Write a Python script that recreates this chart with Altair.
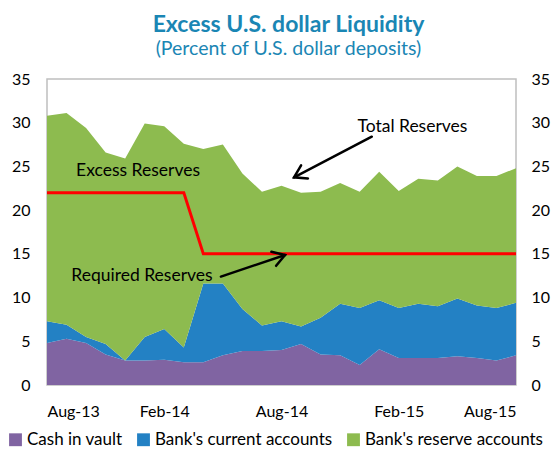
import altair as alt
import pandas as pd
import numpy as np

months = ["Aug-13", "Sep-13", "Oct-13", "Nov-13", "Dec-13", "Jan-14", "Feb-14", "Mar-14",
          "Apr-14", "May-14", "Jun-14", "Jul-14", "Aug-14", "Sep-14", "Oct-14", "Nov-14",
          "Dec-14", "Jan-15", "Feb-15", "Mar-15", "Apr-15", "May-15", "Jun-15", "Jul-15", "Aug-15"]
cash = [4.8, 5.3, 4.8, 3.5, 2.8, 2.8, 2.9, 2.6, 2.6, 3.4, 3.9, 3.9, 4.0, 4.7, 3.5, 3.4,
        2.3, 4.1, 3.1, 3.1, 3.1, 3.3, 3.1, 2.8, 3.4]
current = [2.5, 1.6, 0.7, 1.2, 0.0, 2.7, 3.5, 1.7, 9.0, 8.2, 4.8, 2.9, 3.3, 2.0, 4.2, 5.9,
           6.5, 5.6, 5.7, 6.2, 5.9, 6.6, 6.0, 6.0, 6.0]
reserve = [23.5, 24.2, 23.9, 21.9, 23.1, 24.4, 23.2, 23.3, 15.4, 15.9, 15.5, 15.3, 15.5, 15.3,
           14.4, 13.8, 13.3, 14.7, 13.4, 14.3, 14.4, 15.1, 14.8, 15.1, 15.4]
required = [22] * 8 + [15] * 17

series_names = ["Cash in vault", "Bank's current accounts", "Bank's reserve accounts"]
series_colors = ["#8064A2", "#2381C4", "#8DBB4F"]
tick_idx = [0, 6, 12, 18, 24]

W, H = 469, 306
YMAX = 35
FONT = "Lato"

rows = []
for s_i, (name, vals) in enumerate(zip(series_names, [cash, current, reserve])):
    for i, v in enumerate(vals):
        rows.append({"idx": i, "month": months[i], "series": name, "order": s_i, "value": v})
df = pd.DataFrame(rows)
req_df = pd.DataFrame({"idx": list(range(len(months))), "req": required})

xscale = alt.Scale(domain=[0, 24], nice=False, zero=False)
yscale = alt.Scale(domain=[0, YMAX], nice=False)

label_arr = "[" + ",".join("'%s'" % months[i] for i in tick_idx) + "]"

x_axis = alt.Axis(values=tick_idx, labelExpr=label_arr + "[datum.value/6]",
                  ticks=False, domain=False, grid=False, labelFontSize=16,
                  labelFont=FONT, labelColor="#000", labelPadding=18)
y_left = alt.Axis(values=list(range(0, 36, 5)), ticks=False, domain=False, grid=False,
                  labelFontSize=16, labelFont=FONT, labelColor="#000", labelPadding=17)


def X(field):
    return alt.X(field, scale=xscale, title=None, axis=x_axis)


def Y(field, **kw):
    return alt.Y(field, scale=yscale, title=None, axis=y_left, **kw)


area = alt.Chart(df).mark_area(opacity=1).encode(
    x=X("idx:Q"),
    y=Y("value:Q", stack="zero"),
    color=alt.Color("series:N", scale=alt.Scale(domain=series_names, range=series_colors),
                    sort=series_names,
                    legend=alt.Legend(title=None, orient="none", legendX=-40, legendY=352,
                                      direction="horizontal", symbolType="square",
                                      symbolSize=165, symbolStrokeWidth=0, labelFontSize=17,
                                      labelFont=FONT, labelColor="#000", columnPadding=12,
                                      labelLimit=400, symbolOffset=0, labelOffset=3)),
    order=alt.Order("order:Q"),
)

req_line = alt.Chart(req_df).mark_line(color="#FF0000", strokeWidth=3).encode(
    x=X("idx:Q"),
    y=Y("req:Q"),
)

right_axis = alt.Chart(req_df).mark_line(opacity=0).encode(
    x=X("idx:Q"),
    y=alt.Y("req:Q", scale=yscale, title=None,
            axis=alt.Axis(orient="right", values=list(range(0, 36, 5)), ticks=False,
                          domain=False, grid=False, labelFontSize=16, labelFont=FONT,
                          labelColor="#000", labelPadding=15)),
)

# annotations (positions in data units)
ann_text = ["Total Reserves", "Excess Reserves", "Required Reserves"]
ann_x = [18.7, 4.66, 4.86]
ann_y = [29.5, 24.5, 12.5]
txt_df = pd.DataFrame({"t": ann_text, "x": ann_x, "y": ann_y})
texts = alt.Chart(txt_df).mark_text(font=FONT, fontSize=17.5, color="#000",
                                    align="center", baseline="middle").encode(
    x=X("x:Q"), y=Y("y:Q"), text="t:N")

arrow_tail_x = [16.62, 8.9]
arrow_tail_y = [28.4, 12.4]
arrow_head_x = [12.64, 12.18]
arrow_head_y = [23.75, 14.87]

seg_rows = []
for a in range(2):
    tx, ty = arrow_tail_x[a], arrow_tail_y[a]
    hx, hy = arrow_head_x[a], arrow_head_y[a]
    seg_rows.append({"g": "s%d" % a, "o": 0, "x": tx, "y": ty})
    seg_rows.append({"g": "s%d" % a, "o": 1, "x": hx, "y": hy})
    # arrowhead wings computed in pixel space
    ptx, pty = tx / 24 * W, H - ty / YMAX * H
    phx, phy = hx / 24 * W, H - hy / YMAX * H
    d = np.array([ptx - phx, pty - phy])
    d = d / np.linalg.norm(d)
    L = 14
    wings = []
    for ang in (np.radians(32), -np.radians(32)):
        r = np.array([d[0] * np.cos(ang) - d[1] * np.sin(ang), d[0] * np.sin(ang) + d[1] * np.cos(ang)])
        wx, wy = phx + L * r[0], phy + L * r[1]
        wings.append((wx / W * 24, (H - wy) / H * YMAX))
    seg_rows.append({"g": "h%d" % a, "o": 0, "x": wings[0][0], "y": wings[0][1]})
    seg_rows.append({"g": "h%d" % a, "o": 1, "x": hx, "y": hy})
    seg_rows.append({"g": "h%d" % a, "o": 2, "x": wings[1][0], "y": wings[1][1]})
seg_df = pd.DataFrame(seg_rows)
arrows = alt.Chart(seg_df).mark_line(color="#000", strokeWidth=2.5, strokeCap="round",
                                     strokeJoin="miter").encode(
    x=X("x:Q"), y=Y("y:Q"),
    detail="g:N", order="o:Q")

main = alt.layer(area, req_line, texts, arrows)

chart = alt.layer(main, right_axis).resolve_axis(y="independent").properties(
    width=W, height=H,
    autosize=alt.AutoSizeParams(type="none"),
    padding={"left": 39, "top": 71, "right": 35, "bottom": 65},
    title=alt.TitleParams(
        text="Excess U.S. dollar Liquidity",
        subtitle="(Percent of U.S. dollar deposits)",
        font=FONT, fontSize=23, fontWeight="bold", color="#1A86B4",
        subtitleFont=FONT, subtitleFontSize=19.5, subtitleColor="#1A86B4",
        subtitlePadding=3, anchor="middle", offset=13, dx=7,
    ),
).configure_view(stroke="#BFBFBF", strokeWidth=1.5)

chart.save("out.html", embed_options={"renderer": "svg", "actions": False})
